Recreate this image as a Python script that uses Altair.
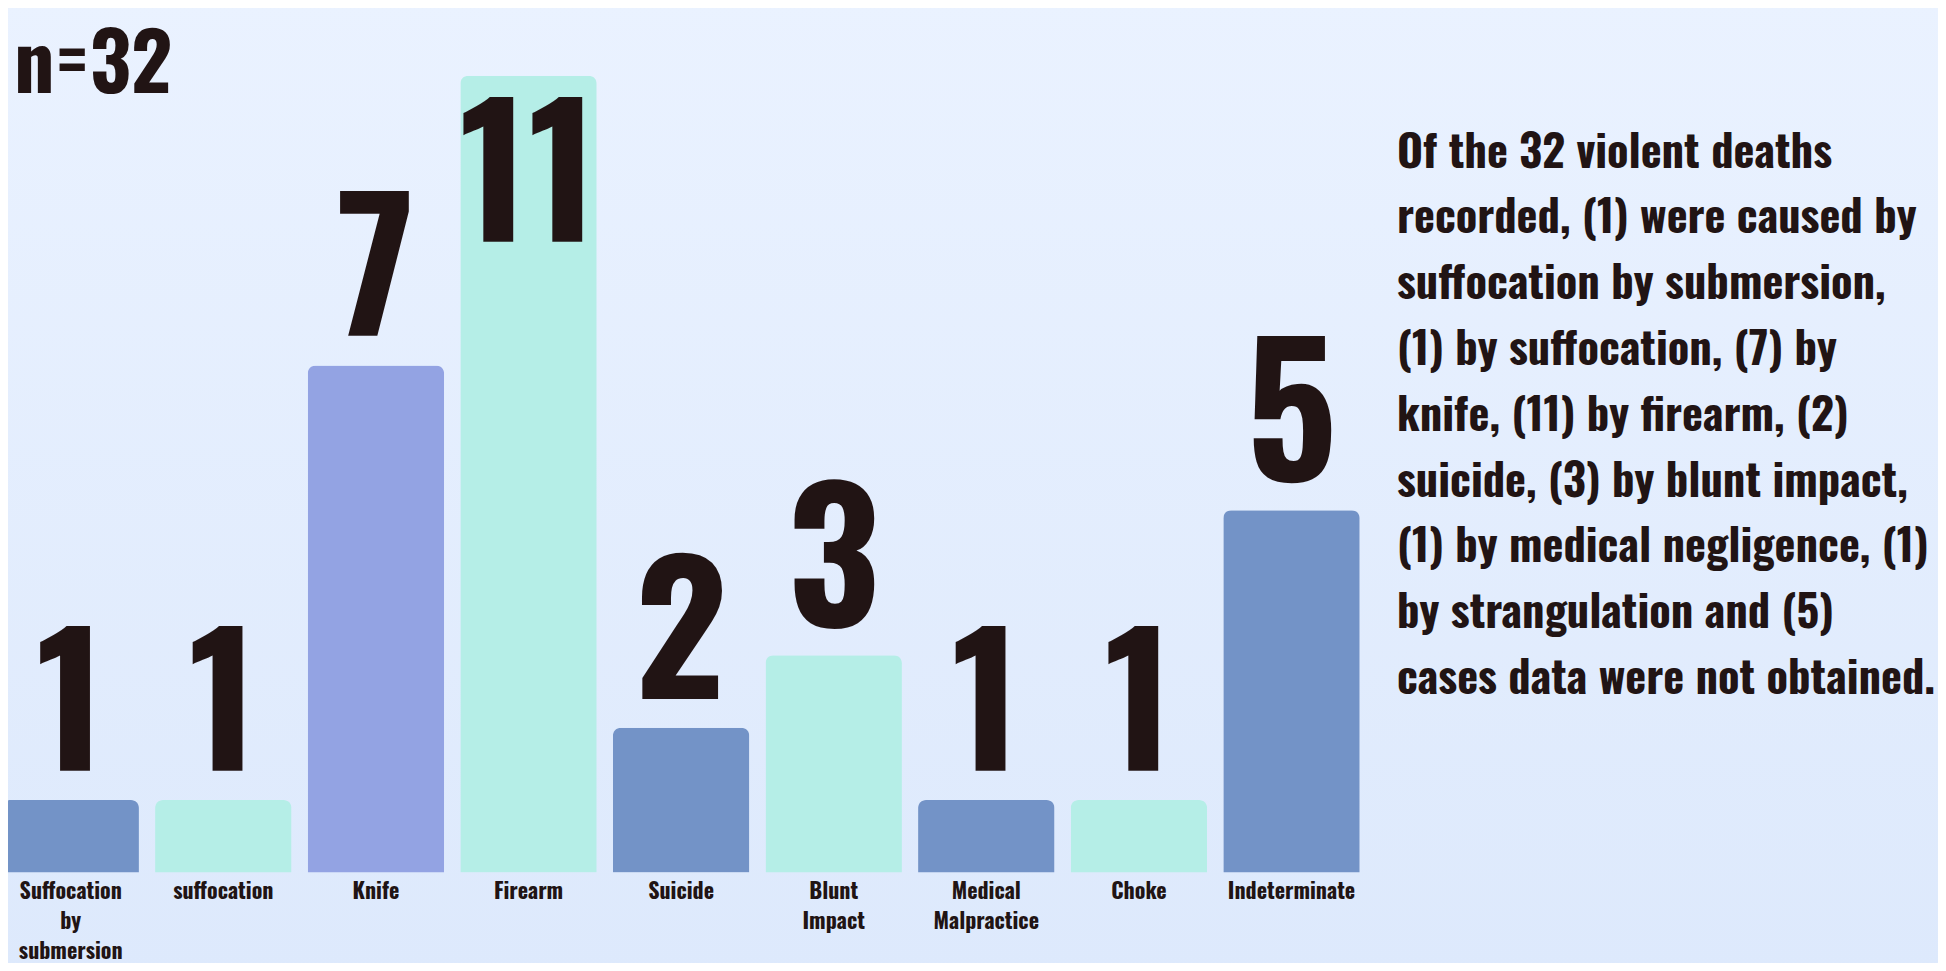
import altair as alt
import pandas as pd

# ---- data ----
categories = ["Suffocation by submersion", "suffocation", "Knife", "Firearm", "Suicide",
              "Blunt Impact", "Medical Malpractice", "Choke", "Indeterminate"]
axis_labels = ["Suffocation\nby\nsubmersion", "suffocation", "Knife", "Firearm", "Suicide",
               "Blunt\nImpact", "Medical\nMalpractice", "Choke", "Indeterminate"]
values = [1, 1, 7, 11, 2, 3, 1, 1, 5]
palette = ["#7393C7", "#B5EEE7", "#93A3E3", "#B5EEE7", "#7393C7",
           "#B5EEE7", "#7393C7", "#B5EEE7", "#7393C7"]
n_label = "n=32"
paragraph = ("Of the 32 violent deaths\nrecorded, (1) were caused by\nsuffocation by submersion,\n"
             "(1) by suffocation, (7) by\nknife, (11) by firearm, (2)\nsuicide, (3) by blunt impact,\n"
             "(1) by medical negligence, (1)\nby strangulation and (5)\ncases data were not obtained.")

df = pd.DataFrame({"cause": categories, "count": values, "label": axis_labels})

FONT = "Oswald, Roboto Condensed, sans-serif"
INK = "#211414"
W, H = 1930, 955
NUM = 179
CAP = 0.81

x_scale = alt.Scale(domain=categories, range=[-5.5, 1351.7], paddingInner=0.106, paddingOuter=0)
y_scale = alt.Scale(domain=[0, max(values)], range=[864.5, 67.7], nice=False, zero=True)
X = alt.X("cause:N", scale=x_scale, axis=None, sort=categories)
Y = alt.Y("count:Q", scale=y_scale, axis=None)

grad = alt.Gradient(gradient="linear",
                    stops=[alt.GradientStop(color="#EAF2FF", offset=0),
                           alt.GradientStop(color="#DDE9FC", offset=1)],
                    x1=0, x2=0, y1=0, y2=1)
bg = alt.Chart(pd.DataFrame({"k": [0]})).mark_rect(color=grad).encode(
    x=alt.value(-10), x2=alt.value(W + 10), y=alt.value(-10), y2=alt.value(H + 10))

base = alt.Chart(df)

bars = base.mark_bar(cornerRadiusTopLeft=8, cornerRadiusTopRight=8).encode(
    x=X, y=Y,
    color=alt.Color("cause:N", scale=alt.Scale(domain=categories, range=palette), legend=None))

above = base.transform_joinaggregate(mx="max(count)").transform_filter(
    "datum.count < datum.mx").mark_text(
    font=FONT, fontSize=NUM, fontWeight="bold", baseline="alphabetic", dy=-29, color=INK
).encode(x=X, y=Y, text="count:Q")

inside = base.transform_joinaggregate(mx="max(count)").transform_filter(
    "datum.count >= datum.mx").mark_text(
    font=FONT, fontSize=NUM, fontWeight="bold", baseline="alphabetic", dy=21 + CAP * NUM, color=INK
).encode(x=X, y=Y, text="count:Q")

cat_text = base.mark_text(
    font=FONT, fontSize=22, fontWeight="bold", baseline="alphabetic", lineBreak="\n",
    lineHeight=30, color=INK
).encode(x=X, y=alt.value(891), text="label:N")

n_text = alt.Chart(pd.DataFrame({"t": [n_label]})).mark_text(
    font=FONT, fontSize=80, fontWeight="bold", align="left", baseline="alphabetic", color=INK
).encode(x=alt.value(6), y=alt.value(85), text="t:N")

para = alt.Chart(pd.DataFrame({"t": [paragraph]})).mark_text(
    font=FONT, fontSize=44.5, fontWeight="bold", align="left", baseline="alphabetic",
    lineBreak="\n", lineHeight=65.8, color=INK
).encode(x=alt.value(1389), y=alt.value(159.5), text="t:N")

chart = alt.layer(bg, bars, above, inside, cat_text, n_text, para).properties(
    width=W, height=H, padding=0, autosize=alt.AutoSizeParams(type="none"),
    background="#E4EEFD"
).configure_view(stroke=None)

chart.save("out.html", embed_options={"renderer": "svg", "actions": False})
